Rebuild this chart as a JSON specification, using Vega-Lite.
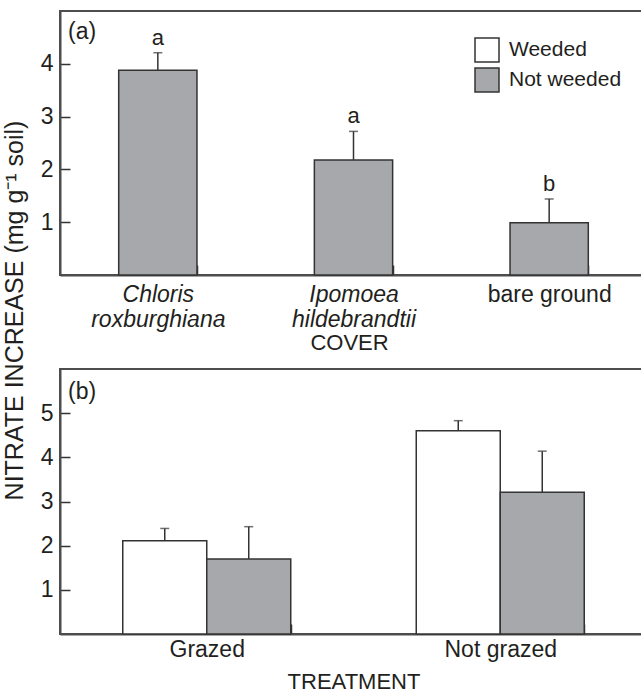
{
  "$schema": "https://vega.github.io/schema/vega-lite/v6.json",
  "padding": {"left": 1, "top": 10, "right": 0, "bottom": 0},
  "bounds": "flush",
  "spacing": 94,
  "config": {
    "font": "Liberation Sans",
    "view": {"stroke": "#4d4d4d", "strokeWidth": 2},
    "axis": {
      "grid": false,
      "domainColor": "#4d4d4d",
      "domainWidth": 2,
      "tickColor": "#333333",
      "tickWidth": 1.5,
      "labelColor": "#231f20",
      "titleColor": "#231f20",
      "labelFontSize": 23,
      "titleFontSize": 22,
      "titleFontWeight": "normal"
    }
  },
  "datasets": {
    "cover": [
      {"cover": "Chloris roxburghiana", "weeding": "Not weeded", "mean": 3.88, "upper": 4.21, "sig": "a"},
      {"cover": "Ipomoea hildebrandtii", "weeding": "Not weeded", "mean": 2.18, "upper": 2.72, "sig": "a"},
      {"cover": "bare ground", "weeding": "Not weeded", "mean": 0.99, "upper": 1.44, "sig": "b"}
    ],
    "graze": [
      {"grazing": "Grazed", "weeding": "Weeded", "mean": 2.11, "upper": 2.39},
      {"grazing": "Grazed", "weeding": "Not weeded", "mean": 1.70, "upper": 2.43},
      {"grazing": "Not grazed", "weeding": "Weeded", "mean": 4.60, "upper": 4.83},
      {"grazing": "Not grazed", "weeding": "Not weeded", "mean": 3.21, "upper": 4.14}
    ]
  },
  "resolve": {"scale": {"x": "independent", "y": "independent", "fill": "independent", "xOffset": "independent"}},
  "vconcat": [
    {
      "width": 587,
      "height": 264,
      "title": {"text": "(a)", "anchor": "start", "frame": "group", "offset": -11, "baseline": "top", "fontSize": 23, "fontWeight": "normal", "color": "#231f20", "dx": 8, "dy": 22},
      "data": {"name": "cover"},
      "encoding": {
        "x": {
          "field": "cover", "type": "nominal", "sort": null,
          "scale": {"paddingInner": 0.6, "paddingOuter": 0.3},
          "axis": {
            "title": "COVER",
            "titleX": 289,
            "titleY": 57,
            "titleBaseline": "top",
            "labelAngle": 0,
            "labelExpr": "datum.value == null ? '' : (datum.value == 'bare ground' ? datum.value : split(datum.value, ' '))",
            "labelFontStyle": {"condition": {"test": "datum.value != 'bare ground'", "value": "italic"}, "value": "normal"},
            "labelLineHeight": 25,
            "labelBaseline": "top",
            "labelPadding": 18,
            "tickBand": "extent",
            "tickSize": -10
          }
        }
      },
      "layer": [
        {
          "mark": {"type": "bar", "stroke": "#333333", "strokeWidth": 1.5},
          "encoding": {
            "y": {"field": "mean", "type": "quantitative", "scale": {"domain": [0, 5]},
              "axis": {"title": "NITRATE INCREASE (mg g⁻¹ soil)", "titleFontSize": 25, "titleX": -33, "titleY": 299, "values": [1, 2, 3, 4], "tickSize": -10, "labelPadding": 17}},
            "fill": {"field": "weeding", "type": "nominal",
              "scale": {"domain": ["Weeded", "Not weeded"], "range": ["#ffffff", "#a7a8ab"]},
              "legend": {"orient": "none", "legendX": 414, "legendY": 26, "title": null, "symbolType": "square", "symbolSize": 576, "symbolStrokeColor": "#333333", "symbolStrokeWidth": 1.5, "symbolOpacity": 1, "labelFontSize": 21, "labelColor": "#231f20", "labelOffset": 9, "rowPadding": 0}}
          }
        },
        {
          "mark": {"type": "rule", "color": "#333333", "strokeWidth": 1.5},
          "encoding": {
            "y": {"field": "mean", "type": "quantitative", "scale": {"domain": [0, 5]},
              "axis": {"title": "NITRATE INCREASE (mg g⁻¹ soil)", "titleFontSize": 25, "titleX": -33, "titleY": 299, "values": [1, 2, 3, 4], "tickSize": -10, "labelPadding": 17}},
            "y2": {"field": "upper"}
          }
        },
        {
          "mark": {"type": "tick", "color": "#333333", "size": 9, "thickness": 1.5},
          "encoding": {
            "y": {"field": "upper", "type": "quantitative", "scale": {"domain": [0, 5]},
              "axis": {"title": "NITRATE INCREASE (mg g⁻¹ soil)", "titleFontSize": 25, "titleX": -33, "titleY": 299, "values": [1, 2, 3, 4], "tickSize": -10, "labelPadding": 17}}
          }
        },
        {
          "mark": {"type": "text", "color": "#231f20", "fontSize": 22, "baseline": "alphabetic", "dy": -8},
          "encoding": {
            "y": {"field": "upper", "type": "quantitative", "scale": {"domain": [0, 5]},
              "axis": {"title": "NITRATE INCREASE (mg g⁻¹ soil)", "titleFontSize": 25, "titleX": -33, "titleY": 299, "values": [1, 2, 3, 4], "tickSize": -10, "labelPadding": 17}},
            "text": {"field": "sig"}
          }
        }
      ]
    },
    {
      "width": 587,
      "height": 265,
      "title": {"text": "(b)", "anchor": "start", "frame": "group", "offset": -11, "baseline": "top", "fontSize": 23, "fontWeight": "normal", "color": "#231f20", "dx": 8, "dy": 24},
      "data": {"name": "graze"},
      "encoding": {
        "x": {
          "field": "grazing", "type": "nominal", "sort": null,
          "scale": {"paddingInner": 0.4276, "paddingOuter": 0.2138},
          "axis": {
            "title": "TREATMENT",
            "titleY": 37,
            "titleBaseline": "top",
            "labelAngle": 0,
            "labelBaseline": "top",
            "labelPadding": 14,
            "labelExpr": "datum.value == null ? '' : datum.value",
            "tickBand": "extent",
            "tickSize": -10
          }
        },
        "xOffset": {"field": "weeding", "type": "nominal", "sort": null,
          "scale": {"domain": ["Weeded", "Not weeded"], "paddingInner": 0, "paddingOuter": 0}}
      },
      "layer": [
        {
          "mark": {"type": "bar", "stroke": "#333333", "strokeWidth": 1.5},
          "encoding": {
            "y": {"field": "mean", "type": "quantitative", "scale": {"domain": [0, 6]},
              "axis": {"title": null, "values": [1, 2, 3, 4, 5], "tickSize": -10, "labelPadding": 17}},
            "fill": {"field": "weeding", "type": "nominal",
              "scale": {"domain": ["Weeded", "Not weeded"], "range": ["#ffffff", "#a7a8ab"]},
              "legend": null}
          }
        },
        {
          "mark": {"type": "rule", "color": "#333333", "strokeWidth": 1.5},
          "encoding": {
            "y": {"field": "mean", "type": "quantitative", "scale": {"domain": [0, 6]},
              "axis": {"title": null, "values": [1, 2, 3, 4, 5], "tickSize": -10, "labelPadding": 17}},
            "y2": {"field": "upper"}
          }
        },
        {
          "mark": {"type": "tick", "color": "#333333", "size": 9, "thickness": 1.5},
          "encoding": {
            "y": {"field": "upper", "type": "quantitative", "scale": {"domain": [0, 6]},
              "axis": {"title": null, "values": [1, 2, 3, 4, 5], "tickSize": -10, "labelPadding": 17}}
          }
        }
      ]
    }
  ]
}
